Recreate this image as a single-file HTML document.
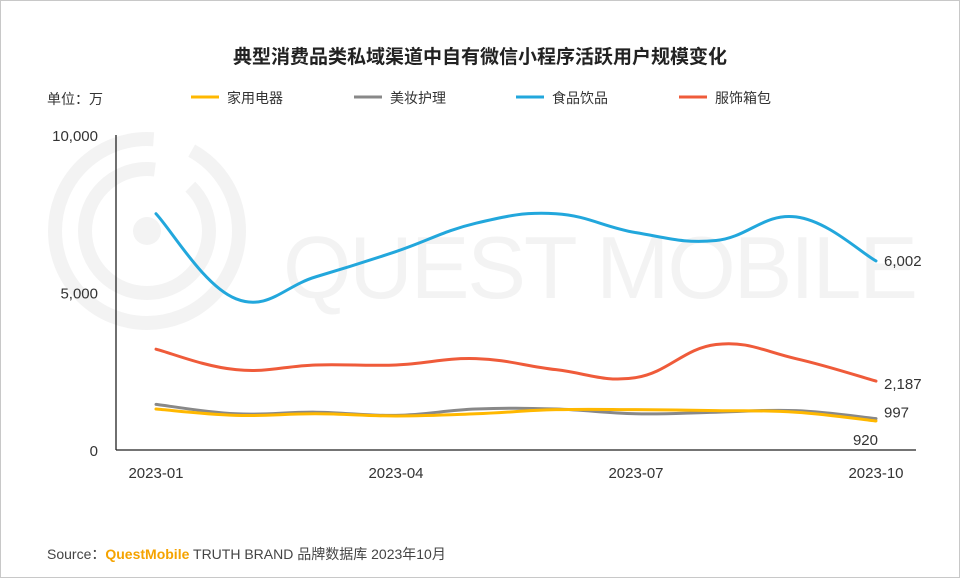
<!DOCTYPE html>
<html><head><meta charset="utf-8"><style>
html,body{margin:0;padding:0;background:#fff}
#wrap{position:relative;width:958px;height:576px;border:1px solid #c8c8c8;overflow:hidden;font-family:"Liberation Sans","Noto Sans CJK SC",sans-serif}
svg{position:absolute;left:0;top:0}
</style></head><body>
<div id="wrap">
<svg id="chart" width="958" height="576">
  <g fill="none" stroke="#f3f3f3">
    <circle cx="146" cy="230" r="92" stroke-width="14" stroke-dasharray="440 40"/>
    <circle cx="146" cy="230" r="62" stroke-width="14" stroke-dasharray="300 40"/>
    <circle cx="146" cy="230" r="14" fill="#f3f3f3" stroke="none"/>
    <text x="282" y="297" font-size="88" fill="#f3f3f3" stroke="none" font-family="Liberation Sans, sans-serif" textLength="635">QUEST MOBILE</text>
  </g>
  <text x="479" y="62" text-anchor="middle" font-size="19" font-weight="bold" fill="#222">典型消费品类私域渠道中自有微信小程序活跃用户规模变化</text>
  <text x="46" y="103" font-size="14" fill="#333">单位：万</text>
  <g id="legend"></g>
  <g id="axes"></g>
  <g id="series"></g>
  <text x="46" y="558" font-size="14" fill="#444">Source：<tspan fill="#f5a300" font-weight="bold">QuestMobile</tspan> TRUTH BRAND 品牌数据库 2023年10月</text>
</svg>
</div>
<script>
const months = ["2023-01","2023-02","2023-03","2023-04","2023-05","2023-06","2023-07","2023-08","2023-09","2023-10"];
const tickLabels = ["2023-01","2023-04","2023-07","2023-10"];
const yTicks = [0,5000,10000];
const seriesNames = ["家用电器","美妆护理","食品饮品","服饰箱包"];
const appliance = [1300,1100,1150,1080,1150,1280,1280,1250,1200,920];
const beauty = [1450,1150,1200,1100,1300,1300,1150,1200,1250,997];
const food = [7500,4800,5500,6300,7200,7500,6900,6650,7400,6002];
const apparel = [3200,2550,2700,2700,2900,2550,2300,3350,2900,2187];
const colors = ["#ffb800","#888888","#22a7dc","#ef5b3a"];

const NS="http://www.w3.org/2000/svg";
function mk(tag,attrs,parent){const e=document.createElementNS(NS,tag);for(const k in attrs)e.setAttribute(k,attrs[k]);parent.appendChild(e);return e;}
const x0=155,x1=875,yTop=134,yBot=449;
const xs=i=>x0+(x1-x0)*i/(months.length-1);
const ys=v=>yBot-(yBot-yTop)*v/10000;
const axes=document.getElementById('axes');
let a=mk('line',{x1:115,y1:yTop,x2:115,y2:yBot,stroke:'#222','stroke-width':1.3},axes);


a=mk('line',{x1:115,y1:yBot,x2:915,y2:yBot,stroke:'#222','stroke-width':1.3},axes);


yTicks.forEach(v=>{const t=mk('text',{x:97,y:ys(v)+6,'text-anchor':'end','font-size':15,fill:'#333'},axes);t.textContent=v.toLocaleString('en-US');

});
tickLabels.forEach(l=>{const i=months.indexOf(l);const t=mk('text',{x:xs(i),y:477,'text-anchor':'middle','font-size':15,fill:'#333'},axes);t.textContent=l;

});
function smooth(pts){let d=`M${pts[0][0]},${pts[0][1]}`;for(let i=0;i<pts.length-1;i++){const p0=pts[i-1]||pts[i],p1=pts[i],p2=pts[i+1],p3=pts[i+2]||p2;const t=0.2;
d+=` C${p1[0]+(p2[0]-p0[0])*t},${p1[1]+(p2[1]-p0[1])*t} ${p2[0]-(p3[0]-p1[0])*t},${p2[1]-(p3[1]-p1[1])*t} ${p2[0]},${p2[1]}`;}return d;}
const data=[appliance,beauty,food,apparel];
const sg=document.getElementById('series');
const lblOff=[[-8,24,'end'],[8,-1,'start'],[8,5,'start'],[8,8,'start']];
[2,3,1,0].forEach(k=>{const vals=data[k];const pts=vals.map((v,i)=>[xs(i),ys(v)]);
const p=mk('path',{d:smooth(pts),fill:'none',stroke:colors[k],'stroke-width':3,'stroke-linecap':'round'},sg);


const last=pts[pts.length-1];const o=lblOff[k];
const t=mk('text',{x:last[0]+o[0]+(k==0?10:0),y:last[1]+o[1]+(k==0?0:0),'text-anchor':o[2],'font-size':15,fill:'#333'},sg);
t.textContent=vals[vals.length-1].toLocaleString('en-US');

});
const lg=document.getElementById('legend');const lx=[190,353,515,678];
seriesNames.forEach((n,k)=>{const g=mk('g',{},lg);


mk('line',{x1:lx[k],y1:96,x2:lx[k]+28,y2:96,stroke:colors[k],'stroke-width':3},g);
const t=mk('text',{x:lx[k]+36,y:102,'font-size':14,fill:'#333'},g);t.textContent=n;});
</script>
</body></html>
